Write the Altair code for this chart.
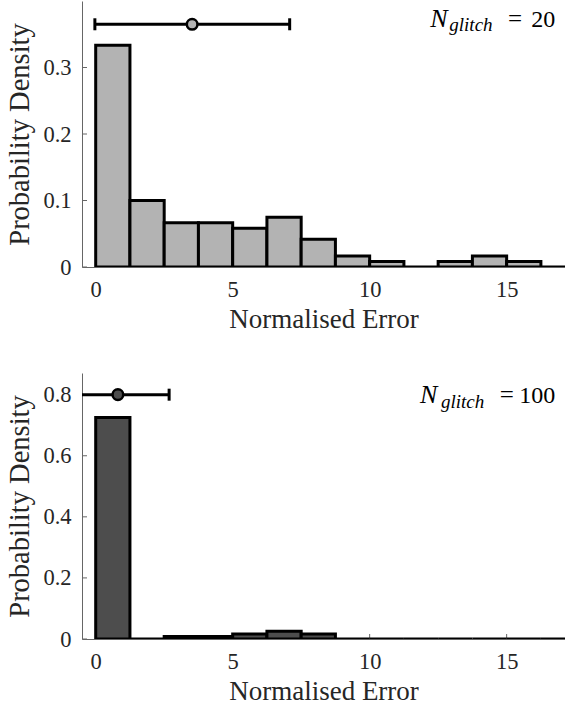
import altair as alt
import pandas as pd

# ---- data ----
bin_start = [0.0, 1.25, 2.5, 3.75, 5.0, 6.25, 7.5, 8.75, 10.0, 11.25, 12.5, 13.75, 15.0, 16.25, 17.5, 18.75]
bin_end = [1.25, 2.5, 3.75, 5.0, 6.25, 7.5, 8.75, 10.0, 11.25, 12.5, 13.75, 15.0, 16.25, 17.5, 18.75, 20.0]
density_20 = [0.3333, 0.1, 0.0667, 0.0667, 0.0583, 0.075, 0.0417, 0.0167, 0.0083, 0.0, 0.0083, 0.0167, 0.0083, 0.0, 0.0, 0.0]
density_100 = [0.725, 0.0, 0.0083, 0.0083, 0.0167, 0.025, 0.0167, 0.0, 0.0, 0.0, 0.0, 0.0, 0.0, 0.0, 0.0, 0.0]

err_20 = {"lo": -0.03, "mean": 3.52, "hi": 7.08, "y": 0.365}
err_100 = {"lo": -1.06, "mean": 0.81, "hi": 2.68, "y": 0.8}

x_ticks = [0, 5, 10, 15]
y_ticks_20 = [0, 0.1, 0.2, 0.3]
y_ticks_100 = [0, 0.2, 0.4, 0.6, 0.8]
labels = ["20", "100"]

FONT = "Liberation Serif"
W, H = 483, 266
X_DOMAIN = [-0.5, 17.13]


def panel(density, fill, err, ymax, yticks, nlabel, pos):
    xs = alt.Scale(domain=X_DOMAIN, nice=False, zero=False)
    ys = alt.Scale(domain=[0, ymax], nice=False, zero=False)
    df = pd.DataFrame({"x0": bin_start, "x1": bin_end, "d": density})

    xaxis = alt.Axis(values=x_ticks, title="Normalised Error", tickSize=0, labelPadding=11,
                     titlePadding=6, grid=False, labelFlush=False, format="d",
                     labelFont=FONT, titleFont=FONT)
    yaxis = alt.Axis(values=yticks, title="Probability Density", tickSize=0, labelPadding=11,
                     titlePadding=8.5, titleFontSize=28.5, grid=False, labelFlush=False,
                     format="~g", labelFont=FONT, titleFont=FONT)

    def X(f):
        return alt.X(f, scale=xs, axis=xaxis)

    def Y(f):
        return alt.Y(f, scale=ys, axis=yaxis)

    ytick_rules = alt.Chart(pd.DataFrame({"v": yticks})).mark_rule(color="#666666", strokeWidth=1).encode(
        y=Y("v:Q"), x=alt.value(0), x2=alt.value(5))
    xtick_rules = alt.Chart(pd.DataFrame({"v": x_ticks})).mark_rule(color="#666666", strokeWidth=1).encode(
        x=X("v:Q"), y=alt.value(H), y2=alt.value(H - 5))

    bars = alt.Chart(df).mark_rect(fill=fill, stroke="black", strokeWidth=3, clip=True).encode(
        x=X("x0:Q"), x2="x1:Q", y=Y("d:Q"), y2=alt.datum(0))

    edf = pd.DataFrame([err])
    rule = alt.Chart(edf).mark_rule(color="black", strokeWidth=3, clip=True).encode(
        x=X("lo:Q"), x2="hi:Q", y=Y("y:Q"))
    cap_lo = alt.Chart(edf).mark_tick(color="black", orient="vertical", size=12, thickness=3,
                                      clip=True, opacity=1).encode(x=X("lo:Q"), y=Y("y:Q"))
    cap_hi = alt.Chart(edf).mark_tick(color="black", orient="vertical", size=12, thickness=3,
                                      clip=True, opacity=1).encode(x=X("hi:Q"), y=Y("y:Q"))
    dot = alt.Chart(edf).mark_circle(fill=fill, stroke="black", strokeWidth=2.5, size=113,
                                     opacity=1).encode(x=X("mean:Q"), y=Y("y:Q"))

    nx, gx, ex, base, gbase = pos
    tdf = pd.DataFrame({"n": ["N"], "g": ["glitch"], "e": ["="], "v": [nlabel]})
    t_n = alt.Chart(tdf).mark_text(font=FONT, fontStyle="italic", fontSize=26,
                                   align="left", baseline="alphabetic", color="black").encode(
        text="n:N", x=alt.value(nx), y=alt.value(base))
    t_g = alt.Chart(tdf).mark_text(font=FONT, fontStyle="italic", fontSize=19,
                                   align="left", baseline="alphabetic", color="black").encode(
        text="g:N", x=alt.value(gx), y=alt.value(gbase))
    t_eq = alt.Chart(tdf).mark_text(font=FONT, fontSize=25,
                                    align="center", baseline="alphabetic", color="black").encode(
        text="e:N", x=alt.value(ex), y=alt.value(base))
    t_num = alt.Chart(tdf).mark_text(font=FONT, fontSize=24,
                                     align="right", baseline="alphabetic", color="black").encode(
        text="v:N", x=alt.value(473.3), y=alt.value(base))

    return alt.layer(ytick_rules, xtick_rules, bars, rule, cap_lo, cap_hi, dot,
                     t_n, t_g, t_eq, t_num).properties(width=W, height=H)


top = panel(density_20, "#b3b3b3", err_20, 0.4, y_ticks_20, labels[0],
            (348.3, 367.3, 433.1, 25.8, 30.2))
bottom = panel(density_100, "#4d4d4d", err_100, 0.871, y_ticks_100, labels[1],
               (338.0, 359.0, 424.8, 30.0, 35.0))

chart = alt.vconcat(top, bottom, spacing=40).properties(
    padding={"left": 5, "top": 1, "right": 0, "bottom": 0}
).configure_view(stroke=None).configure_axis(
    labelFont=FONT, titleFont=FONT, labelFontSize=22.5, titleFontSize=27,
    labelColor="#262626", titleColor="#262626", titleFontWeight="normal",
    domainColor="#666666", domainWidth=1
).configure_text(font=FONT)

chart.save("out.html", embed_options={"renderer": "svg", "actions": False})
